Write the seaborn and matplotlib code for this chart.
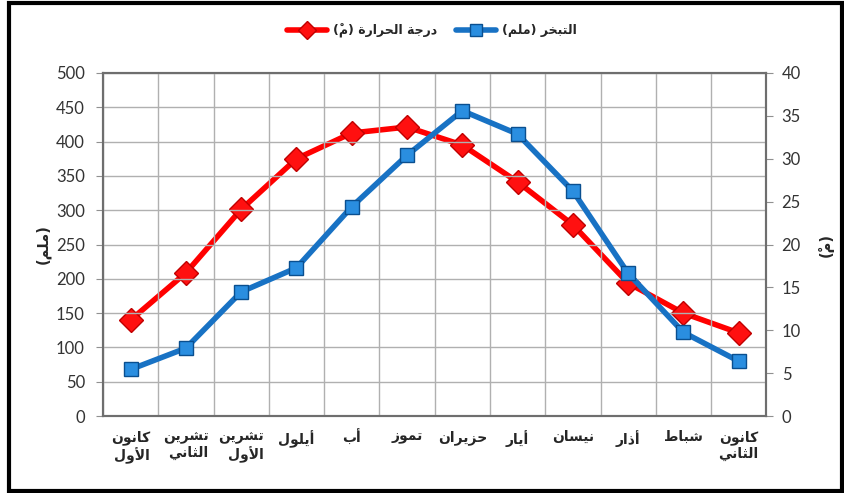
import unicodedata
import matplotlib
matplotlib.use("Agg")
import matplotlib.pyplot as plt
import seaborn as sns
from matplotlib.lines import Line2D
from matplotlib.patches import Rectangle

# ---------------- data ----------------
months = ["كانون\nالأول", "تشرين\nالثاني", "تشرين\nالأول", "أيلول", "أب", "تموز",
          "حزيران", "أيار", "نيسان", "أذار", "شباط", "كانون\nالثاني"]
evaporation = [68, 99, 181, 216, 305, 380, 445, 411, 328, 208, 122, 80]
temperature = [11.2, 16.7, 24.1, 30.0, 33.0, 33.7, 31.6, 27.3, 22.3, 15.5, 12.0, 9.7]
temp_label = "درجة الحرارة (مْ)"
evap_label = "التبخر (ملم)"
left_ylabel = "(ملم)"
right_ylabel = "(مْ)"

# ---------------- small arabic shaper (matplotlib has no text shaping) ----------------
FORMS = {
    'ا': ('\uFE8D', '\uFE8E'), 'أ': ('\uFE83', '\uFE84'), 'ة': ('\uFE93', '\uFE94'),
    'د': ('\uFEA9', '\uFEAA'), 'ذ': ('\uFEAB', '\uFEAC'), 'ر': ('\uFEAD', '\uFEAE'),
    'ز': ('\uFEAF', '\uFEB0'), 'و': ('\uFEED', '\uFEEE'),
    'ب': ('\uFE8F', '\uFE90', '\uFE91', '\uFE92'), 'ت': ('\uFE95', '\uFE96', '\uFE97', '\uFE98'),
    'ث': ('\uFE99', '\uFE9A', '\uFE9B', '\uFE9C'), 'ج': ('\uFE9D', '\uFE9E', '\uFE9F', '\uFEA0'),
    'ح': ('\uFEA1', '\uFEA2', '\uFEA3', '\uFEA4'), 'خ': ('\uFEA5', '\uFEA6', '\uFEA7', '\uFEA8'),
    'س': ('\uFEB1', '\uFEB2', '\uFEB3', '\uFEB4'), 'ش': ('\uFEB5', '\uFEB6', '\uFEB7', '\uFEB8'),
    'ط': ('\uFEC1', '\uFEC2', '\uFEC3', '\uFEC4'), 'ك': ('\uFED9', '\uFEDA', '\uFEDB', '\uFEDC'),
    'ل': ('\uFEDD', '\uFEDE', '\uFEDF', '\uFEE0'), 'م': ('\uFEE1', '\uFEE2', '\uFEE3', '\uFEE4'),
    'ن': ('\uFEE5', '\uFEE6', '\uFEE7', '\uFEE8'), 'ي': ('\uFEF1', '\uFEF2', '\uFEF3', '\uFEF4'),
    'لا': ('\uFEFB', '\uFEFC'), 'لأ': ('\uFEF7', '\uFEF8'),
}
MIRROR = {'(': ')', ')': '('}


def shape_line(s):
    clusters = []
    for ch in s:
        if unicodedata.combining(ch) and clusters:
            clusters[-1][1] += ch
        elif clusters and clusters[-1][0] == 'ل' and not clusters[-1][1] and ch in 'اأ':
            clusters[-1][0] = 'ل' + ch
        else:
            clusters.append([ch, ''])
    out = []
    for i, (base, marks) in enumerate(clusters):
        if base not in FORMS:
            out.append(MIRROR.get(base, base) + marks)
            continue
        f = FORMS[base]
        prev_j = i > 0 and clusters[i - 1][0] in FORMS and len(FORMS[clusters[i - 1][0]]) == 4
        next_j = len(f) == 4 and i + 1 < len(clusters) and clusters[i + 1][0] in FORMS
        if prev_j and next_j:
            g = f[3]
        elif prev_j:
            g = f[1]
        elif next_j:
            g = f[2]
        else:
            g = f[0]
        # mark goes first so it lands over its own letter in visual order
        out.append(marks + g)
    return ''.join(reversed(out))


def ar(s):
    return '\n'.join(shape_line(line) for line in s.split('\n'))


# ---------------- plot ----------------
sns.set_style("white")
plt.rcParams['font.family'] = ['DejaVu Sans']

fig = plt.figure(figsize=(8.44, 4.93), dpi=100)
ax = fig.add_axes([0.122, 0.156, 0.786, 0.696])
ax2 = ax.twinx()

pos = list(range(len(months)))
blue = "#1872c4"
red = "#ff0000"

sns.lineplot(x=pos, y=evaporation, ax=ax, color=blue, linewidth=4, marker='s',
             markersize=10, markerfacecolor="#2a8ee0", markeredgecolor="#0a4f8f",
             markeredgewidth=1, zorder=5)
sns.lineplot(x=pos, y=temperature, ax=ax2, color=red, linewidth=4, marker='D',
             markersize=12, markerfacecolor="#ff1010", markeredgecolor="#c00000",
             markeredgewidth=1, zorder=4)

ax.set_xlim(-0.5, len(months) - 0.5)
ax.set_ylim(0, 500)
ax2.set_ylim(0, 40)
ax.set_yticks(range(0, 501, 50))
ax2.set_yticks(range(0, 41, 5))
ax.set_xticks(pos)
ax.set_xticklabels([ar(m) for m in months], fontsize=10, fontweight='bold',
                   multialignment='right')
ax.set_xticks([p + 0.5 for p in range(-1, len(months))], minor=True)
ax.tick_params(axis='x', which='major', length=0, pad=10)
ax.tick_params(axis='x', which='minor', length=5, color='#909090', direction='out')
ax.tick_params(axis='y', length=5, color='#909090', direction='out', labelsize=12,
               labelcolor='#333333', pad=8)
ax2.tick_params(axis='y', length=5, color='#909090', direction='out', labelsize=12,
                labelcolor='#333333', pad=6)
for lbl in ax.get_yticklabels() + ax2.get_yticklabels():
    lbl.set_family('Lato')

ax.grid(True, axis='y', color='#b0b0b0', linewidth=1)
ax.grid(True, axis='x', which='minor', color='#b0b0b0', linewidth=1)
ax.grid(False, axis='x', which='major')
ax.set_axisbelow(True)
ax2.grid(False)

for a in (ax, ax2):
    for sp in a.spines.values():
        sp.set_color('#6e6e6e')
        sp.set_linewidth(1.5)

ax.set_ylabel(ar(left_ylabel), fontsize=10.5, fontweight='bold', labelpad=4)
ax2.set_ylabel(ar(right_ylabel), fontsize=10.5, fontweight='bold', labelpad=12, rotation=90)
ax.set_xlabel("")

ax2.set_zorder(ax.get_zorder() - 1)
ax.patch.set_visible(False)
ax2.patch.set_visible(True)
ax2.patch.set_facecolor('white')

handles = [
    Line2D([], [], color=red, linewidth=4, marker='D', markersize=9,
           markerfacecolor="#ff1010", markeredgecolor="#c00000"),
    Line2D([], [], color=blue, linewidth=4, marker='s', markersize=8,
           markerfacecolor="#2a8ee0", markeredgecolor="#0a4f8f"),
]
fig.legend(handles, [ar(temp_label), ar(evap_label)], loc='center',
           bbox_to_anchor=(0.512, 0.938), ncol=2, frameon=False, handlelength=3.2,
           handletextpad=0.5, columnspacing=1.5, prop={'size': 9, 'weight': 'bold'})

fig.patches.append(Rectangle((0.011, 0.004), 0.987, 0.99, transform=fig.transFigure,
                             fill=False, edgecolor='black', linewidth=3))

fig.savefig("out.png", dpi=100)
